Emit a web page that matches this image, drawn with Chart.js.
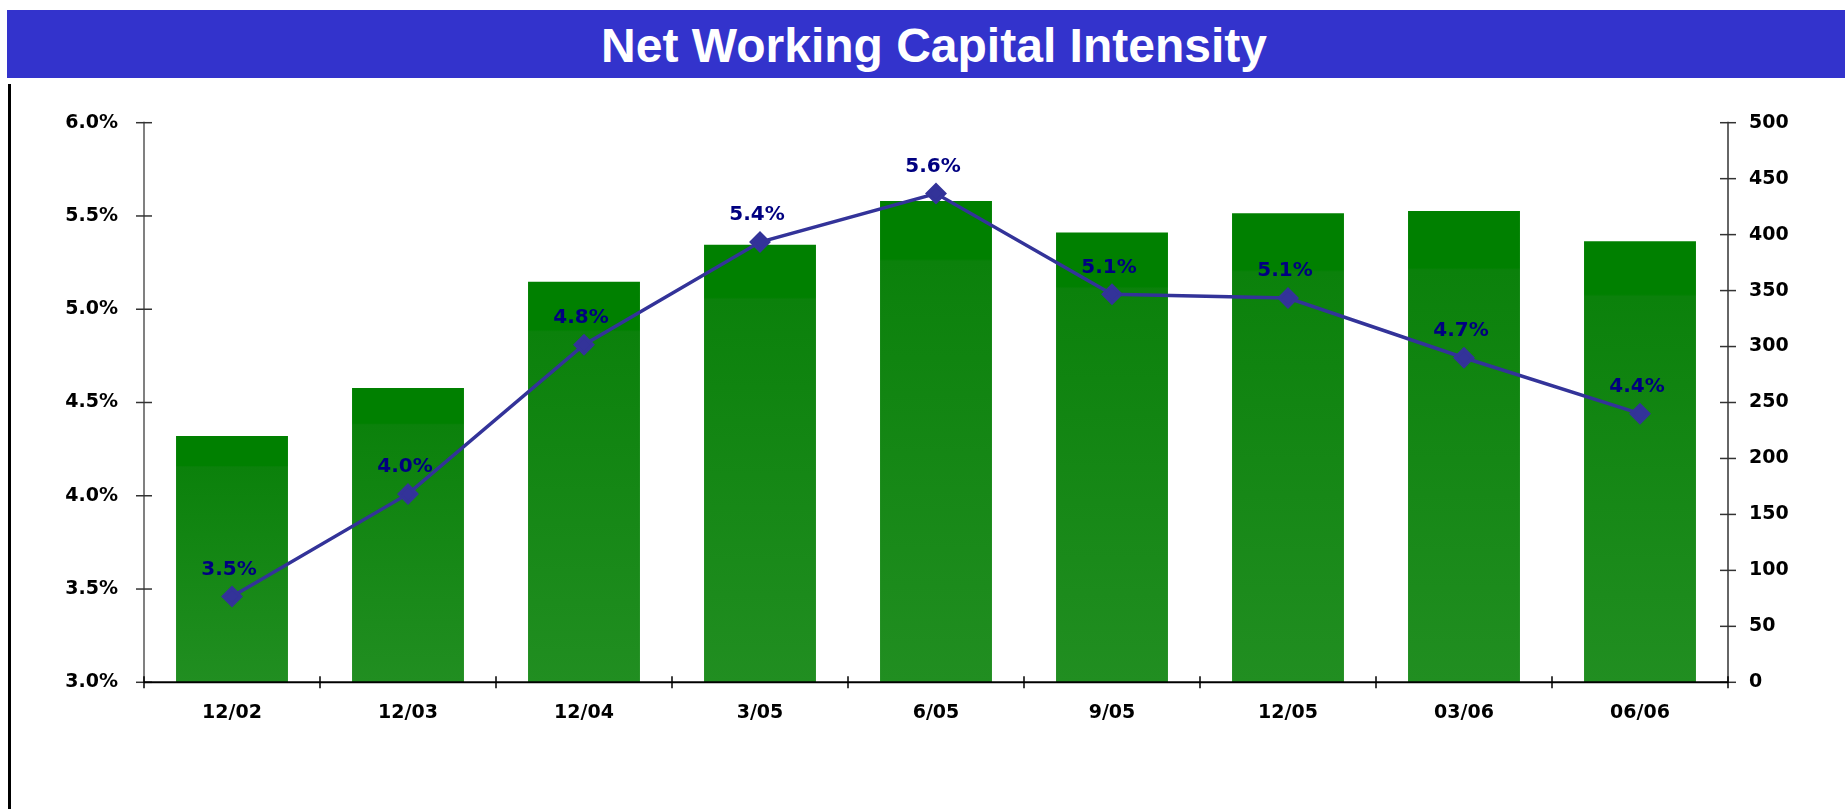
<!DOCTYPE html>
<html lang="en">
<head>
<meta charset="UTF-8">
<title>Net Working Capital Intensity</title>
<style>
  body {
    margin: 0;
    background: #fff;
    width: 1845px;
    height: 809px;
    position: relative;
    overflow: hidden;
  }
  .title-bar {
    position: absolute;
    left: 7px;
    top: 10px;
    width: 1822px;
    height: 68px;
    padding-left: 16px;
    background: #3333cc;
    color: #fff;
    font: bold 48px "Liberation Sans", Arial, sans-serif;
    text-align: center;
    line-height: 72px;
    overflow: hidden;
  }
  .frame {
    position: absolute;
    left: 8px;
    top: 84px;
    width: 3px;
    height: 725px;
    background: #000;
  }
  .chart-box {
    position: absolute;
    left: 0;
    top: 80px;
    width: 1845px;
    height: 729px;
  }
</style>
</head>
<body>
  <div class="title-bar">Net Working Capital Intensity</div>
  <div class="frame"></div>
  <div class="chart-box">
    <canvas id="nwcChart"></canvas>
  </div>

<script src="https://cdn.jsdelivr.net/npm/chart.js"></script>
<script>
  // chart data
  const categories = ['12/02', '12/03', '12/04', '3/05', '6/05', '9/05', '12/05', '03/06', '06/06'];
  const nwcValues = [220, 263, 358, 391, 430, 402, 419, 421, 394];
  const intensityPct = [3.46, 4.01, 4.81, 5.36, 5.62, 5.08, 5.06, 4.74, 4.44];
  const pctTicks = [3.0, 3.5, 4.0, 4.5, 5.0, 5.5, 6.0];
  const valueTicks = [0, 50, 100, 150, 200, 250, 300, 350, 400, 450, 500];

  const fontFamily = '"DejaVu Sans", Verdana, sans-serif';

  // axis lines with ticks crossing them
  const axisMarks = {
    id: 'axisMarks',
    afterDatasetsDraw(chart) {
      const { ctx, chartArea: a, scales: { x, y, y1 } } = chart;
      const seg = (x0, y0, x1, y1_) => {
        ctx.beginPath();
        ctx.moveTo(x0, y0);
        ctx.lineTo(x1, y1_);
        ctx.stroke();
      };
      ctx.save();
      ctx.strokeStyle = '#808080';
      ctx.lineWidth = 2;
      seg(a.left, a.top - 1, a.left, a.bottom);
      ctx.strokeStyle = '#333';
      ctx.lineWidth = 1.5;
      pctTicks.forEach(v => {
        const py = y.getPixelForValue(v);
        seg(a.left - 8, py, a.left + 8, py);
      });

      seg(a.right, a.top - 1, a.right, a.bottom);
      valueTicks.forEach(v => {
        const py = y1.getPixelForValue(v);
        seg(a.right - 8, py, a.right + 8, py);
      });

      ctx.strokeStyle = '#000';
      ctx.lineWidth = 2;
      seg(a.left, a.bottom, a.right, a.bottom);
      ctx.lineWidth = 1.5;
      for (let i = 0; i <= categories.length; i++) {
        const px = x.getPixelForValue(i - 0.5);
        seg(px, a.bottom - 6, px, a.bottom + 6);
      }
      ctx.restore();
    }
  };

  // percentage labels above the line points
  const pointLabels = {
    id: 'pointLabels',
    afterDatasetsDraw(chart) {
      const { ctx } = chart;
      const meta = chart.getDatasetMeta(0);
      ctx.save();
      ctx.font = 'bold 20px ' + fontFamily;
      ctx.fillStyle = '#000080';
      ctx.textAlign = 'center';
      ctx.textBaseline = 'middle';
      meta.data.forEach((pt, i) => {
        ctx.fillText(intensityPct[i].toFixed(1) + '%', pt.x - 3, pt.y - 27);
      });
      ctx.restore();
    }
  };

  function barFill(context) {
    const chart = context.chart;
    if (!chart.chartArea || context.type !== 'data') return '#008000';
    const scale = chart.scales.y1;
    const top = scale.getPixelForValue(nwcValues[context.dataIndex]);
    const base = scale.getPixelForValue(0);
    const g = chart.ctx.createLinearGradient(0, top, 0, base);
    g.addColorStop(0, '#008000');
    g.addColorStop(0.12, '#008000');
    g.addColorStop(0.125, '#0b810b');
    g.addColorStop(1, '#218e21');
    return g;
  }

  const ctx = document.getElementById('nwcChart').getContext('2d');
  const nwcChart = new Chart(ctx, {
    data: {
      labels: categories,
      datasets: [
        {
          type: 'line',
          label: 'NWC Intensity',
          data: intensityPct,
          yAxisID: 'y',
          order: 0,
          borderColor: '#333399',
          borderWidth: 3.5,
          pointStyle: 'rectRot',
          pointRadius: 8.5,
          pointBackgroundColor: '#333399',
          pointBorderColor: '#333399',
          tension: 0
        },
        {
          type: 'bar',
          label: 'Net Working Capital',
          data: nwcValues,
          yAxisID: 'y1',
          order: 1,
          backgroundColor: barFill,
          borderWidth: 0,
          barPercentage: 0.636,
          categoryPercentage: 1
        }
      ]
    },
    options: {
      responsive: true,
      maintainAspectRatio: false,
      animation: false,
      layout: { padding: { top: 42.7, left: 0, right: 0, bottom: 0 } },
      plugins: {
        legend: { display: false },
        tooltip: { enabled: false }
      },
      scales: {
        x: {
          type: 'category',
          offset: true,
          grid: { display: false, drawTicks: false },
          border: { display: false },
          ticks: { font: { family: fontFamily, size: 19, weight: 'bold' }, color: '#000', padding: 19, maxRotation: 0 },
          afterFit: s => { s.height = 126.7; }
        },
        y: {
          position: 'left',
          min: 3,
          max: 6,
          grid: { display: false, drawTicks: false },
          border: { display: false },
          ticks: {
            stepSize: 0.5,
            font: { family: fontFamily, size: 19, weight: 'bold' },
            color: '#000',
            padding: 26,
            callback: v => v.toFixed(1) + '%'
          },
          afterFit: s => { s.width = 144; }
        },
        y1: {
          position: 'right',
          min: 0,
          max: 500,
          grid: { display: false, drawTicks: false },
          border: { display: false },
          ticks: { stepSize: 50, font: { family: fontFamily, size: 19, weight: 'bold' }, color: '#000', padding: 21 },
          afterFit: s => { s.width = 117; }
        }
      }
    },
    plugins: [axisMarks, pointLabels]
  });
</script>
</body>
</html>
